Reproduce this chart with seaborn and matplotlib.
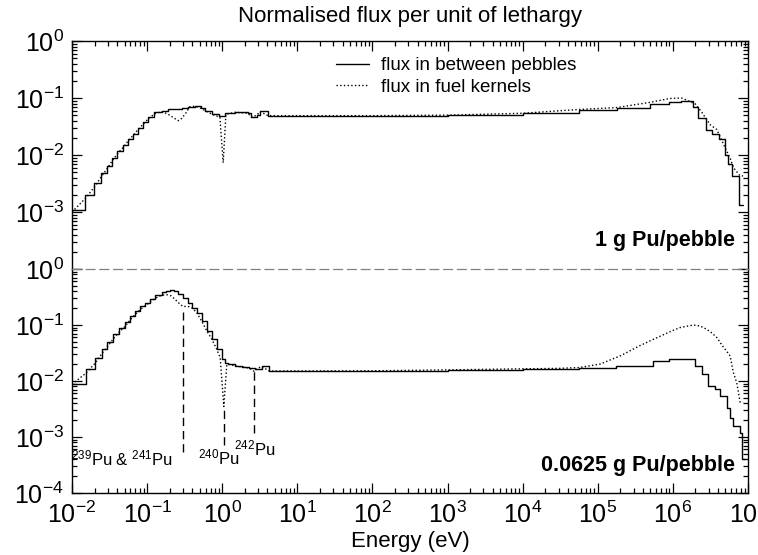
import numpy as np
import pandas as pd
import matplotlib
matplotlib.use("Agg")
import matplotlib.pyplot as plt
from matplotlib.lines import Line2D
from matplotlib.ticker import LogLocator, NullFormatter, FixedLocator
import seaborn as sns

# ---------------- data (energy in eV, normalised flux per unit lethargy) ----------------
# 1 g Pu/pebble : flux in between pebbles
top_pebble_E = [0.01, 0.0149, 0.0198, 0.0243, 0.0295, 0.0338, 0.0401, 0.0482, 0.0552, 0.0643,
                0.075, 0.089, 0.104, 0.125, 0.156, 0.19, 0.235, 0.29, 0.351, 0.435,
                0.52, 0.59, 0.73, 0.906, 1.09, 1.48, 2.2, 2.45, 2.9, 3.18,
                4.07, 1e2, 1e3, 1e4, 5.7e4, 1.8e5, 5e5, 9e5, 1.3e6, 1.87e6,
                2.19e6, 2.8e6, 3.3e6, 4.1e6, 5.0e6, 5.5e6, 6.1e6, 7.5e6, 8.5e6]
top_pebble_flux = [1.07e-3, 2.0e-3, 3.2e-3, 4.8e-3, 6.5e-3, 8.7e-3, 1.17e-2, 1.48e-2, 1.9e-2, 2.34e-2,
                   3.0e-2, 3.8e-2, 4.6e-2, 5.6e-2, 6.0e-2, 6.3e-2, 6.5e-2, 6.7e-2, 6.9e-2, 7.2e-2,
                   6.6e-2, 6.0e-2, 5.2e-2, 4.8e-2, 5.5e-2, 5.6e-2, 5.4e-2, 4.6e-2, 5.0e-2, 5.8e-2,
                   4.9e-2, 4.9e-2, 5.0e-2, 5.4e-2, 6.2e-2, 6.6e-2, 7.9e-2, 8.6e-2, 8.7e-2, 6.9e-2,
                   4.4e-2, 2.8e-2, 2.3e-2, 1.9e-2, 1.02e-2, 6.9e-3, 4.3e-3, 1.35e-3, 1.35e-3]

# 1 g Pu/pebble : flux in fuel kernels
top_kernel_E = [0.01, 0.0155, 0.0205, 0.025, 0.030, 0.0345, 0.041, 0.049, 0.056, 0.065,
                0.076, 0.09, 0.105, 0.127, 0.156, 0.19, 0.225, 0.26, 0.29, 0.33,
                0.37, 0.435, 0.52, 0.59, 0.73, 0.93, 1.03, 1.12, 1.48, 2.2,
                2.45, 2.9, 3.18, 4.07, 1e2, 1e3, 1e4, 5.7e4, 1.8e5, 5e5,
                9e5, 1.3e6, 1.98e6, 2.43e6, 3.13e6, 3.84e6, 4.95e6, 5.76e6, 6.4e6, 7.85e6, 8.6e6]
top_kernel_flux = [1.0e-3, 1.8e-3, 2.9e-3, 4.3e-3, 6.0e-3, 8.0e-3, 1.08e-2, 1.4e-2, 1.78e-2, 2.2e-2,
                   2.8e-2, 3.55e-2, 4.4e-2, 5.3e-2, 5.8e-2, 5.2e-2, 4.5e-2, 4.0e-2, 4.4e-2, 5.5e-2,
                   7.0e-2, 7.2e-2, 6.6e-2, 6.0e-2, 5.2e-2, 4.6e-2, 7.3e-3, 5.2e-2, 5.6e-2, 5.4e-2,
                   4.6e-2, 5.0e-2, 5.8e-2, 4.9e-2, 4.9e-2, 5.0e-2, 5.4e-2, 6.3e-2, 6.8e-2, 8.4e-2,
                   9.8e-2, 1.0e-1, 7.9e-2, 5.6e-2, 3.4e-2, 2.8e-2, 1.35e-2, 8.9e-3, 6.0e-3, 4.3e-3, 4.3e-3]

# 0.0625 g Pu/pebble : flux in between pebbles
bot_pebble_E = [0.01, 0.0153, 0.0202, 0.0248, 0.029, 0.0355, 0.0423, 0.0508, 0.0592, 0.069,
                0.0804, 0.0938, 0.109, 0.127, 0.156, 0.18, 0.202, 0.23, 0.26, 0.3,
                0.354, 0.40, 0.457, 0.533, 0.622, 0.725, 0.845, 0.985, 1.1, 1.21,
                1.5, 1.82, 2.3, 2.74, 3.36, 4.2, 1e2, 1e3, 1e4, 5.7e4,
                1.77e5, 5.5e5, 8.9e5, 1.4e6, 1.98e6, 2.43e6, 2.97e6, 3.65e6, 4.25e6, 5.2e6,
                5.8e6, 6.4e6, 7.85e6, 8.2e6, 9.0e6]
bot_pebble_flux = [8.7e-3, 0.0162, 0.026, 0.037, 0.050, 0.069, 0.089, 0.111, 0.145, 0.178,
                   0.219, 0.251, 0.288, 0.339, 0.389, 0.41, 0.43, 0.40, 0.36, 0.30,
                   0.25, 0.20, 0.166, 0.117, 0.079, 0.056, 0.037, 0.0246, 0.021, 0.020,
                   0.0185, 0.0178, 0.017, 0.0166, 0.0182, 0.0151, 0.0152, 0.0158, 0.0165, 0.0174,
                   0.0186, 0.0229, 0.0245, 0.0251, 0.0186, 0.0132, 0.0081, 0.0071, 0.0054, 0.0033,
                   0.0022, 0.00155, 0.00117, 0.0004, 0.0004]

# 0.0625 g Pu/pebble : flux in fuel kernels
bot_kernel_E = [0.01, 0.0153, 0.0205, 0.025, 0.030, 0.036, 0.043, 0.051, 0.060, 0.070,
                0.081, 0.095, 0.11, 0.128, 0.156, 0.18, 0.21, 0.24, 0.27, 0.30,
                0.35, 0.40, 0.457, 0.533, 0.622, 0.725, 0.845, 0.94, 1.05, 1.15,
                1.21, 1.5, 1.82, 2.3, 2.67, 2.9, 3.36, 4.2, 1e2, 1e3,
                1e4, 3e4, 5.7e4, 1.07e5, 1.98e5, 3.66e5, 6.76e5, 1.0e6, 1.25e6, 1.87e6,
                2.3e6, 2.82e6, 3.3e6, 3.84e6, 4.6e6, 5.2e6, 5.78e6, 6.4e6, 7.08e6, 7.85e6, 8.6e6]
bot_kernel_flux = [8.7e-3, 0.0138, 0.021, 0.031, 0.042, 0.058, 0.076, 0.095, 0.125, 0.155,
                   0.19, 0.22, 0.26, 0.30, 0.34, 0.35, 0.33, 0.28, 0.24, 0.214,
                   0.215, 0.20, 0.166, 0.117, 0.079, 0.056, 0.037, 0.026, 0.0035, 0.0195,
                   0.020, 0.0185, 0.0178, 0.017, 0.0148, 0.0166, 0.0182, 0.0151, 0.0152, 0.0158,
                   0.0165, 0.0168, 0.0174, 0.020, 0.028, 0.043, 0.063, 0.080, 0.090, 0.100,
                   0.096, 0.084, 0.072, 0.060, 0.042, 0.034, 0.028, 0.014, 0.0093, 0.0042, 0.0042]

# resonance markers (bottom panel)
resonance_E = [0.296, 1.056, 2.67]
resonance_top = [0.17, 0.0035, 0.0155]
resonance_bottom = [5.5e-4, 7.2e-4, 1.2e-3]
resonance_labels = [r"$^{239}$Pu & $^{241}$Pu", r"$^{240}$Pu", r"$^{242}$Pu"]
resonance_label_pos = [(0.0098, 3.1e-4), (0.47, 3.2e-4), (1.42, 4.6e-4)]

x_ticks = [1e-2, 1e-1, 1e0, 1e1, 1e2, 1e3, 1e4, 1e5, 1e6, 1e7]
series_names = ["flux in between pebbles", "flux in fuel kernels"]
panel_names = ["1 g Pu/pebble", "0.0625 g Pu/pebble"]

# ---------------- style ----------------
sns.set_style("ticks")
plt.rcParams["font.family"] = ["Liberation Sans", "DejaVu Sans"]
plt.rcParams["mathtext.fontset"] = "custom"
plt.rcParams["mathtext.rm"] = "Liberation Sans"
plt.rcParams["mathtext.it"] = "Liberation Sans:italic"
plt.rcParams["mathtext.bf"] = "Liberation Sans:bold"
plt.rcParams["mathtext.default"] = "regular"
for key in ["text.color", "axes.labelcolor", "xtick.color", "ytick.color", "axes.edgecolor"]:
    plt.rcParams[key] = "black"

fig = plt.figure(figsize=(7.58, 5.55), dpi=100)
W, H = 758.0, 555.0
L, R = 72, 748
ax1 = fig.add_axes([L / W, 1 - 269 / H, (R - L) / W, (269 - 41) / H])
ax2 = fig.add_axes([L / W, 1 - 493 / H, (R - L) / W, (493 - 269) / H])

for ax in (ax1, ax2):
    ax.set_xscale("log")
    ax.set_yscale("log")

def draw(ax, E, F, ls, ds):
    df = pd.DataFrame({"E": E, "F": F})
    sns.lineplot(data=df, x="E", y="F", ax=ax, estimator=None, sort=False,
                 color="black", lw=1.0, linestyle=ls, drawstyle=ds)

draw(ax1, top_pebble_E, top_pebble_flux, "-", "steps-post")
draw(ax1, top_kernel_E, top_kernel_flux, ":", "default")
draw(ax2, bot_pebble_E, bot_pebble_flux, "-", "steps-post")
draw(ax2, bot_kernel_E, bot_kernel_flux, ":", "default")

for e, yt, yb in zip(resonance_E, resonance_top, resonance_bottom):
    ax2.plot([e, e], [yb, yt], color="black", lw=1.0, linestyle=(0, (6, 3.5)))

for lab, (px, py) in zip(resonance_labels, resonance_label_pos):
    ax2.text(px, py, lab, fontsize=12, ha="left", va="baseline")

for ax, name in zip((ax1, ax2), panel_names):
    ax.text(0.981, 0.125, name, transform=ax.transAxes, ha="right", va="center",
            fontsize=15.5, fontweight="bold")

for ax in (ax1, ax2):
    ax.set_xlim(1e-2, 1e7)
    ax.set_ylim(1e-4, 1e0)
    ax.set_xlabel("")
    ax.set_ylabel("")
    ax.xaxis.set_major_locator(FixedLocator(x_ticks))
    ax.xaxis.set_minor_locator(LogLocator(base=10, subs=np.arange(2, 10), numticks=30))
    ax.yaxis.set_minor_locator(LogLocator(base=10, subs=np.arange(2, 10), numticks=30))
    ax.yaxis.set_minor_formatter(NullFormatter())
    ax.xaxis.set_minor_formatter(NullFormatter())
    ax.tick_params(which="both", direction="in", left=True, right=True, top=True, bottom=True,
                   labelsize=18, width=0.9, pad=6, colors="black")
    ax.tick_params(which="major", length=7)
    ax.tick_params(which="minor", length=3.5)
    for s in ax.spines.values():
        s.set_linewidth(1.0)
        s.set_color("black")

ax1.set_yticks([1e0, 1e-1, 1e-2, 1e-3, 1e-4])
ax1.set_yticklabels([r"$10^{0}$", r"$10^{-1}$", r"$10^{-2}$", r"$10^{-3}$", ""])
ax2.set_yticks([1e0, 1e-1, 1e-2, 1e-3, 1e-4])
ax2.set_yticklabels([r"$10^{0}$", r"$10^{-1}$", r"$10^{-2}$", r"$10^{-3}$", r"$10^{-4}$"])
ax1.tick_params(which="both", bottom=False, labelbottom=False)
ax2.tick_params(which="both", top=False)
ax1.spines["bottom"].set_visible(False)
ax2.spines["top"].set_color("0.5")
ax2.spines["top"].set_linewidth(0.9)
ax2.spines["top"].set_linestyle((0, (7, 4)))
ax2.set_xticklabels([r"$10^{%d}$" % int(np.log10(t)) for t in x_ticks])

ax2.set_xlabel("Energy (eV)", fontsize=16, labelpad=2)
ax1.set_title("Normalised flux per unit of lethargy", fontsize=16, pad=14)

handles = [Line2D([], [], color="black", lw=1.0, linestyle="-"),
           Line2D([], [], color="black", lw=1.0, linestyle=":")]
ax1.legend(handles, series_names, loc="upper left", bbox_to_anchor=(0.39, 0.93),
           frameon=False, fontsize=13.5, handlelength=1.8, handletextpad=0.6,
           borderpad=0, borderaxespad=0, labelspacing=0.25)

fig.savefig("out.png", dpi=100)
